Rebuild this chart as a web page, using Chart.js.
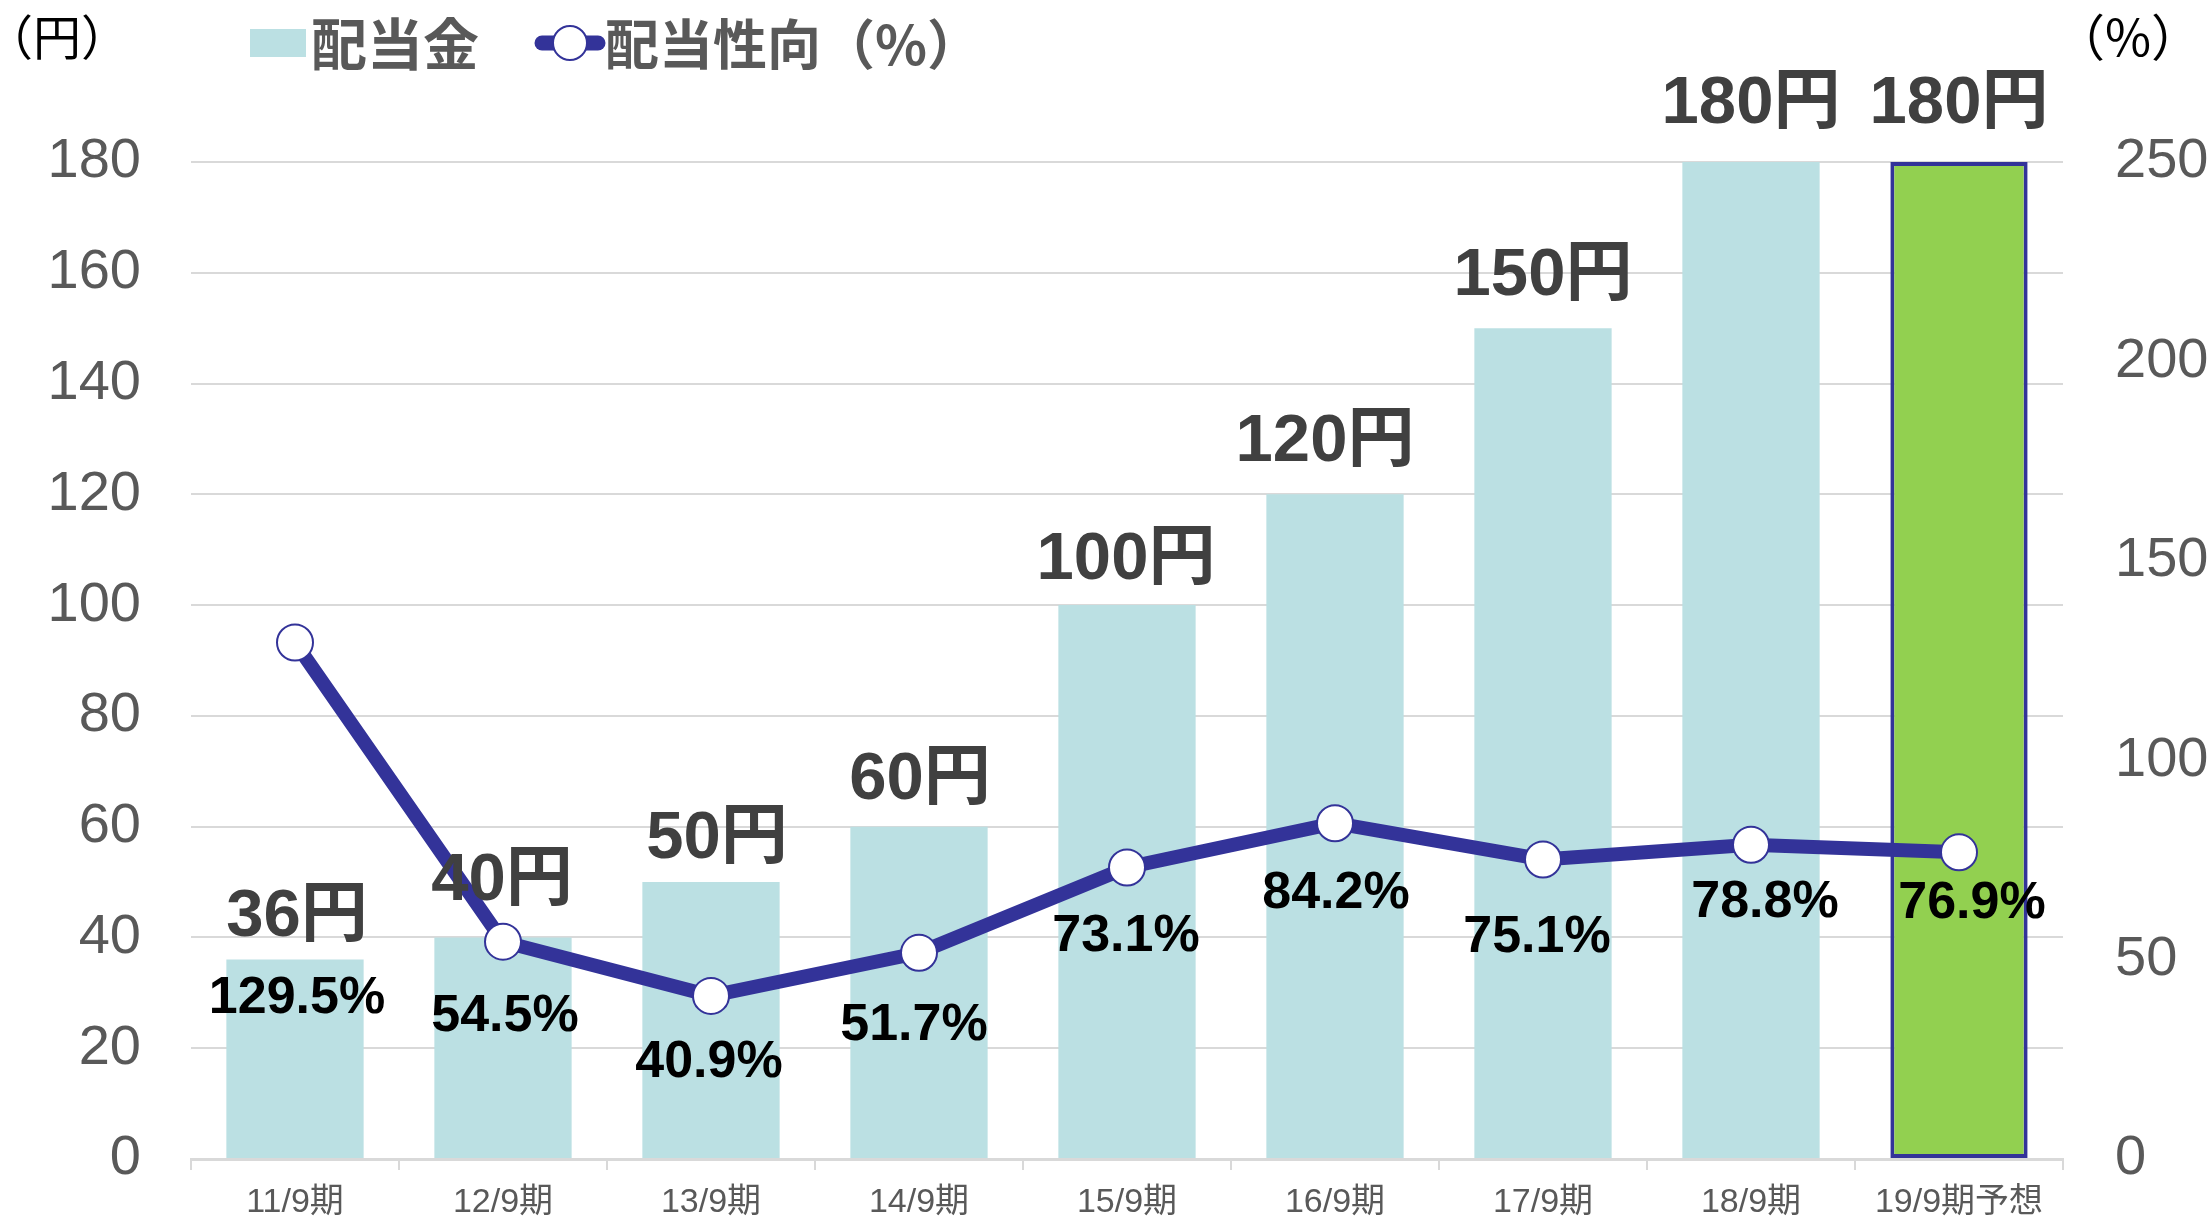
<!DOCTYPE html>
<html><head><meta charset="utf-8">
<script src="https://cdn.jsdelivr.net/npm/chart.js@4.4.1/dist/chart.umd.min.js"></script>
<style>html,body{margin:0;padding:0;background:#fff;overflow:hidden}#wrap{width:2212px;height:1219px;position:relative}</style>
</head><body><div id="wrap"><canvas id="c"></canvas></div>
<script>
// ---- data ----
const categories = ['11/9期','12/9期','13/9期','14/9期','15/9期','16/9期','17/9期','18/9期','19/9期予想'];
const dividends = [36, 40, 50, 60, 100, 120, 150, 180, 180];
const payoutRatio = [129.5, 54.5, 40.9, 51.7, 73.1, 84.2, 75.1, 78.8, 76.9];
const dividendLabels = ['36円','40円','50円','60円','100円','120円','150円','180円','180円'];
const payoutLabels = ['129.5%','54.5%','40.9%','51.7%','73.1%','84.2%','75.1%','78.8%','76.9%'];
const seriesNames = ['配当金', '配当性向（%）'];
const leftUnit = '（円）';
const rightUnit = '（%）';

// ---- label placement (style, not data) ----
const barLabelDx = [2, -1, 6, 1, -1, -10, 0, 0, 0];
const barLabelDy = [-42, -56, -43, -46, -45, -52, -52, -57, -57];
const pctLabelDx = [2, 2, -2, -5, -1, 1, -6, 14, 13];
const pctLabelDy = [356, 75, 67, 73, 69, 70, 78, 58, 51];

const LAT = '"Liberation Sans", Arial, "Noto Sans CJK JP", sans-serif';
Chart.defaults.font.family = LAT;

const barColor = '#BBE0E3';
const forecastColor = '#92D050';
const lineColor = '#333399';

const labelPlugin = {
  id: 'labels',
  afterDatasetsDraw(chart) {
    const ctx = chart.ctx;
    const barMeta = chart.getDatasetMeta(0);
    const lineMeta = chart.getDatasetMeta(1);
    ctx.save();
    ctx.textAlign = 'center';
    ctx.textBaseline = 'middle';
    ctx.fillStyle = '#404040';
    ctx.font = 'bold 67px ' + LAT;
    barMeta.data.forEach((el, i) => {
      ctx.fillText(dividendLabels[i], el.x + barLabelDx[i], el.y + barLabelDy[i]);
    });
    ctx.fillStyle = '#000000';
    ctx.font = 'bold 52px ' + LAT;
    lineMeta.data.forEach((el, i) => {
      ctx.fillText(payoutLabels[i], el.x + pctLabelDx[i], el.y + pctLabelDy[i]);
    });
    ctx.restore();
  },
  afterDraw(chart) {
    const ctx = chart.ctx;
    ctx.save();
    // unit labels
    ctx.fillStyle = '#000';
    ctx.textAlign = 'center';
    ctx.textBaseline = 'middle';
    ctx.font = '48px "Noto Sans CJK JP", sans-serif';
    ctx.fillText(leftUnit, 57, 37);
    ctx.font = '50px "Noto Sans CJK JP", sans-serif';
    ctx.fillText(rightUnit, 2128, 37);
    // legend: bar item
    ctx.fillStyle = barColor;
    ctx.fillRect(250, 29, 56, 28);
    ctx.fillStyle = '#595959';
    ctx.textAlign = 'left';
    ctx.font = 'bold 56px "Noto Sans CJK JP", sans-serif';
    ctx.fillText(seriesNames[0], 311, 44);
    // legend: line item
    ctx.strokeStyle = lineColor;
    ctx.lineWidth = 15;
    ctx.lineCap = 'round';
    ctx.beginPath(); ctx.moveTo(542, 43); ctx.lineTo(598, 43); ctx.stroke();
    ctx.beginPath(); ctx.arc(570, 43, 17, 0, Math.PI * 2);
    ctx.fillStyle = '#fff'; ctx.fill();
    ctx.lineWidth = 2; ctx.stroke();
    ctx.fillStyle = '#595959';
    ctx.font = 'bold 54px "Noto Sans CJK JP", sans-serif';
    ctx.fillText(seriesNames[1], 605, 44);
    ctx.restore();
  }
};

function fixVertical(w) {
  return function (s) { s.width = w; s.paddingTop = 0; s.paddingBottom = 0; };
}

new Chart(document.getElementById('c'), {
  type: 'bar',
  data: {
    labels: categories,
    datasets: [
      {
        type: 'bar',
        label: seriesNames[0],
        data: dividends,
        yAxisID: 'y',
        order: 2,
        backgroundColor: dividends.map((v, i) => i === dividends.length - 1 ? forecastColor : barColor),
        borderColor: dividends.map((v, i) => i === dividends.length - 1 ? lineColor : 'rgba(0,0,0,0)'),
        borderWidth: dividends.map((v, i) => i === dividends.length - 1 ? 4 : 0),
        borderSkipped: false,
        barPercentage: 0.66,
        categoryPercentage: 1.0
      },
      {
        type: 'line',
        label: seriesNames[1],
        data: payoutRatio,
        yAxisID: 'y1',
        order: 1,
        borderColor: lineColor,
        borderWidth: 14,
        tension: 0,
        pointRadius: 18,
        pointBackgroundColor: '#ffffff',
        pointBorderColor: lineColor,
        pointBorderWidth: 2,
        fill: false
      }
    ]
  },
  options: {
    responsive: true,
    maintainAspectRatio: false,
    devicePixelRatio: 1,
    animation: false,
    layout: { autoPadding: false, padding: { left: 0, right: 0, top: 162, bottom: 0 } },
    plugins: { legend: { display: false }, tooltip: { enabled: false } },
    scales: {
      x: {
        offset: true,
        afterFit(s) { s.height = 60; s.paddingLeft = 0; s.paddingRight = 0; },
        grid: { display: true, drawOnChartArea: false, color: '#d9d9d9', lineWidth: 2, tickLength: 11, offset: true },
        border: { color: '#d9d9d9', width: 3 },
        ticks: { color: '#595959', font: { size: 34, lineHeight: 1 }, padding: 16, maxRotation: 0, autoSkip: false }
      },
      y: {
        position: 'left', min: 0, max: 180,
        afterFit: fixVertical(191),
        ticks: { stepSize: 20, color: '#595959', font: { size: 56 }, padding: 50 },
        grid: { color: '#d9d9d9', lineWidth: 2, drawTicks: false },
        border: { display: false }
      },
      y1: {
        position: 'right', min: 0, max: 250,
        afterFit: fixVertical(149),
        ticks: { stepSize: 50, color: '#595959', font: { size: 56 }, padding: 52 },
        grid: { display: false, drawTicks: false },
        border: { display: false }
      }
    }
  },
  plugins: [labelPlugin]
});
</script>
</body></html>
